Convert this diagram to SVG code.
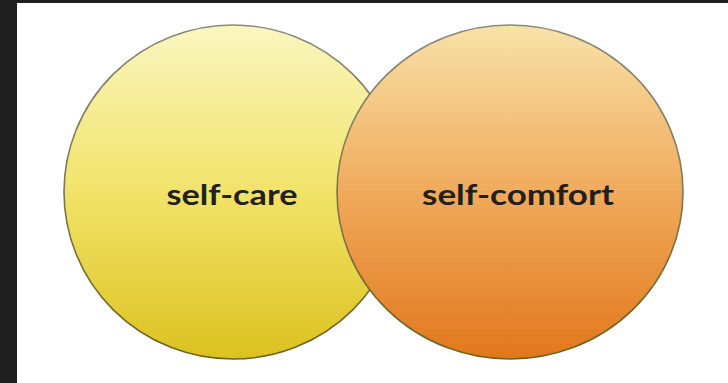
<svg xmlns="http://www.w3.org/2000/svg" width="728" height="383" viewBox="0 0 728 383">
<defs>
<linearGradient id="gy" x1="0" y1="0" x2="0" y2="1">
<stop offset="0" stop-color="#faf6c0"/>
<stop offset="0.5" stop-color="#f1e369"/>
<stop offset="1" stop-color="#dcc21f"/>
</linearGradient>
<linearGradient id="go" x1="0" y1="0" x2="0" y2="1">
<stop offset="0" stop-color="#f8e2a8"/>
<stop offset="0.5" stop-color="#f0aa5c"/>
<stop offset="1" stop-color="#e2771c"/>
</linearGradient>
<linearGradient id="gs" x1="0" y1="0" x2="0" y2="1">
<stop offset="0" stop-color="#8a8a80"/>
<stop offset="1" stop-color="#6e6420"/>
</linearGradient>
</defs>
<style>
.c{stroke:url(#gs);stroke-width:1.6}
.t{font-family:"Lato","Open Sans",sans-serif;font-weight:bold;font-size:29px;fill:#231f1a;text-anchor:middle}
</style>
<rect x="0" y="0" width="728" height="383" fill="#ffffff"/>
<rect x="0" y="0" width="728" height="3" fill="#1f1f1f"/>
<rect x="0" y="0" width="17" height="383" fill="#1f1f1f"/>
<g id="self-care">
<ellipse class="c" cx="233" cy="192" rx="169" ry="167" fill="url(#gy)"/>
<text class="t" x="232" y="205" textLength="131" lengthAdjust="spacingAndGlyphs">self-care</text>
</g>
<g id="self-comfort">
<ellipse class="c" cx="510" cy="192" rx="173" ry="167" fill="url(#go)"/>
<text class="t" x="518" y="205" textLength="192" lengthAdjust="spacingAndGlyphs">self-comfort</text>
</g>
<g id="connectors"></g>
</svg>
